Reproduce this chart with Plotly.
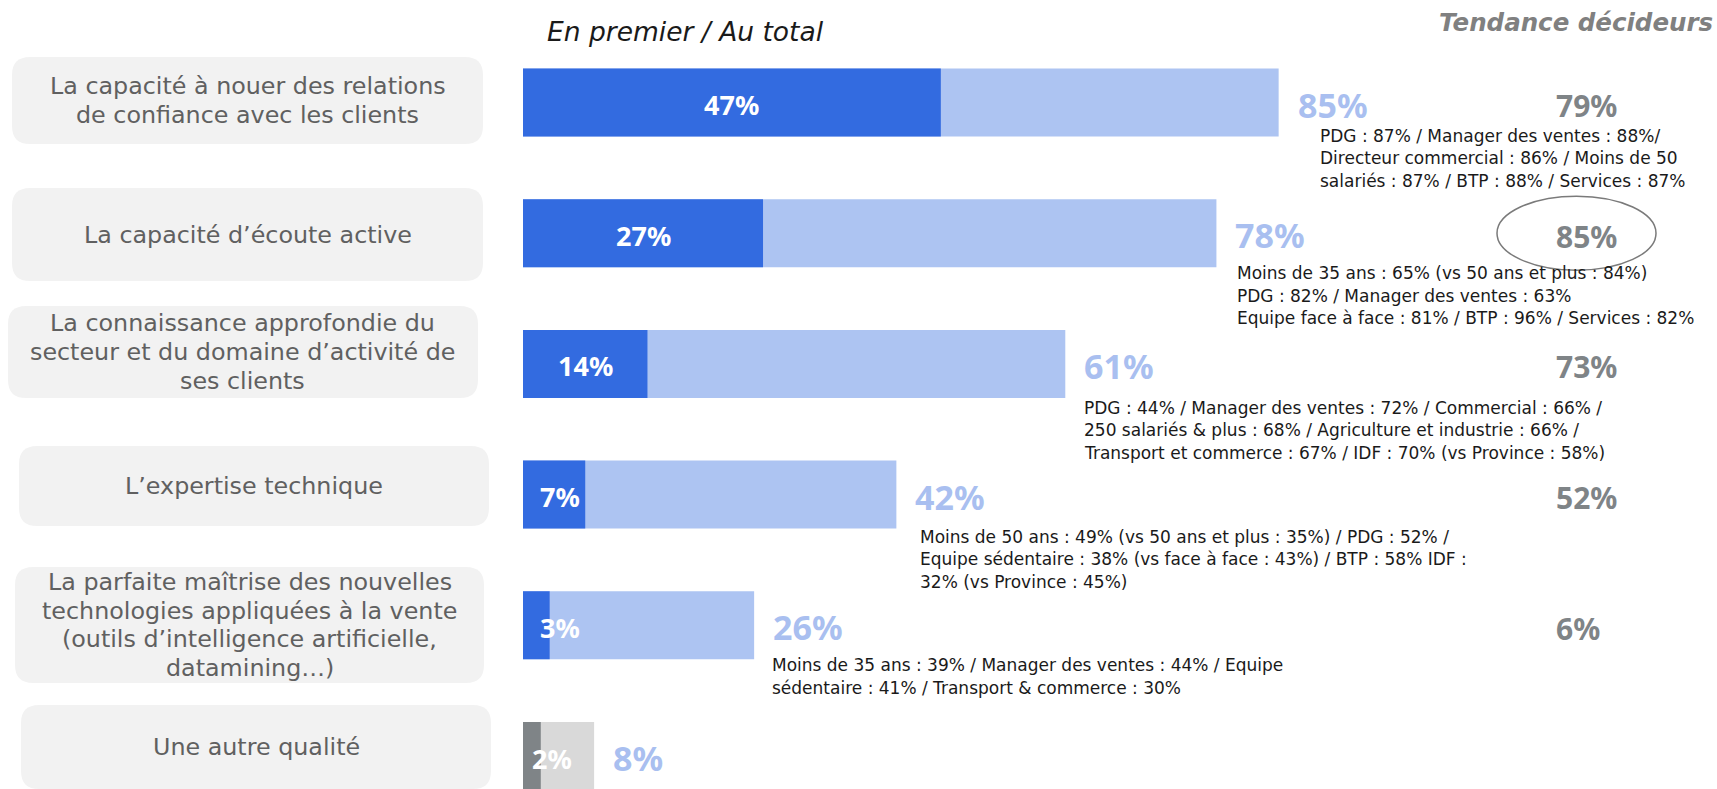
import plotly.graph_objects as go

# ---------------- data ----------------
categories = [
    "La capacité à nouer des relations<br>de confiance avec les clients",
    "La capacité d’écoute active",
    "La connaissance approfondie du<br>secteur et du domaine d’activité de<br>ses clients",
    "L’expertise technique",
    "La parfaite maîtrise des nouvelles<br>technologies appliquées à la vente<br>(outils d’intelligence artificielle,<br>datamining…)",
    "Une autre qualité",
]
en_premier = [47, 27, 14, 7, 3, 2]
au_total = [85, 78, 61, 42, 26, 8]
decideurs = ["79%", "85%", "73%", "52%", "6%", ""]
highlight = [False, True, False, False, False, False]
details = [
    ["PDG : 87% / Manager des ventes : 88%/",
     "Directeur commercial : 86% / Moins de 50",
     "salariés : 87% / BTP : 88% / Services : 87%"],
    ["Moins de 35 ans : 65% (vs 50 ans et plus : 84%)",
     "PDG : 82% / Manager des ventes : 63%",
     "Equipe face à face : 81% / BTP : 96% / Services : 82%"],
    ["PDG : 44% / Manager des ventes : 72% / Commercial : 66% /",
     "250 salariés & plus : 68% / Agriculture et industrie : 66% /",
     "Transport et commerce : 67% / IDF : 70% (vs Province : 58%)"],
    ["Moins de 50 ans : 49% (vs 50 ans et plus : 35%) / PDG : 52% /",
     "Equipe sédentaire : 38% (vs face à face : 43%) / BTP : 58% IDF :",
     "32% (vs Province : 45%)"],
    ["Moins de 35 ans : 39% / Manager des ventes : 44% / Equipe",
     "sédentaire : 41% / Transport & commerce : 30%"],
    [],
]
title_left = "En premier / Au total"
title_right = "Tendance décideurs"

# ---------------- layout constants ----------------
W, H = 1717, 789
X0_PX, PX_PER_PCT = 523, 8.89
ROW0_PX, ROW_STEP = 102.5, 130.7
BAR_W = 68 / ROW_STEP
NUM_FONT = "Noto Sans"
TXT_FONT = "DejaVu Sans"

DARK = ["#336be0"] * 5 + ["#7f8487"]
LIGHT = ["#adc4f2"] * 5 + ["#d9d9d9"]
TOTAL_COLOR = "#a9bff0"
GRAY = "#7f8487"

detail_dx = [41, 21, 19, 24, 18, 18]
detail_dy = [33, 40, 44, 42, 40, 40]
inner_small_dx = [17, 17, 17, 17, 17, 9]
BOX_LINE = 28.6
DETAIL_LINE = 22.5

# label boxes (pixel rows: top, bottom, left, right)
boxes = [(57, 144, 12, 483), (188, 281, 12, 483), (306, 398, 8, 478),
         (446, 526, 19, 489), (567, 683, 15, 484), (705, 789, 21, 491)]

xr = [-X0_PX / PX_PER_PCT, (W - X0_PX) / PX_PER_PCT]
yr = [(H - ROW0_PX) / ROW_STEP, -ROW0_PX / ROW_STEP]

idx = list(range(len(categories)))

fig = go.Figure()
fig.add_trace(go.Bar(x=au_total, y=idx, orientation="h", width=BAR_W,
                     marker=dict(color=LIGHT, line=dict(width=0)),
                     hoverinfo="skip", showlegend=False))
fig.add_trace(go.Bar(x=en_premier, y=idx, orientation="h", width=BAR_W,
                     marker=dict(color=DARK, line=dict(width=0)),
                     hoverinfo="skip", showlegend=False))


def px2paper(x, y):
    return x / W, 1 - y / H


def rrect(top, bottom, left, right, r=18):
    cmds = [("M", [(left + r, top)]), ("L", [(right - r, top)]),
            ("Q", [(right, top), (right, top + r)]), ("L", [(right, bottom - r)]),
            ("Q", [(right, bottom), (right - r, bottom)]), ("L", [(left + r, bottom)]),
            ("Q", [(left, bottom), (left, bottom - r)]), ("L", [(left, top + r)]),
            ("Q", [(left, top), (left + r, top)])]
    s = ""
    for c, ps in cmds:
        s += c + " " + " ".join("%.5f,%.5f" % px2paper(*p) for p in ps) + " "
    return s + "Z"


shapes = []
ann = []
for i, cat in enumerate(categories):
    t, b, l, r = boxes[i]
    shapes.append(dict(type="path", path=rrect(t, b, l, r), xref="paper", yref="paper",
                       fillcolor="#f2f2f2", line=dict(width=0), layer="below"))
    lines = cat.split("<br>")
    n = len(lines)
    for k, ln in enumerate(lines):
        py = (t + b) / 2 + (k - (n - 1) / 2) * BOX_LINE
        cx, cy = px2paper((l + r) / 2, py)
        ann.append(dict(x=cx, y=cy, xref="paper", yref="paper", text=ln, showarrow=False,
                        font=dict(family=TXT_FONT, size=23.8, color="#606060"),
                        xanchor="center", yanchor="middle"))
    # inner label
    v = en_premier[i]
    if v >= 10:
        ann.append(dict(x=v / 2, y=i, text="<b>%d%%</b>" % v, showarrow=False, xanchor="center",
                        yanchor="middle", font=dict(family=NUM_FONT, size=27, color="white"),
                        yshift=-2))
    else:
        ann.append(dict(x=0, y=i, text="<b>%d%%</b>" % v, showarrow=False, xanchor="left",
                        xshift=inner_small_dx[i] - 2, yanchor="middle",
                        font=dict(family=NUM_FONT, size=27, color="white"), yshift=-2))
    # total label
    ann.append(dict(x=au_total[i], y=i, text="<b>%d%%</b>" % au_total[i], showarrow=False,
                    xanchor="left", xshift=17, yanchor="middle", yshift=-2,
                    font=dict(family=NUM_FONT, size=34, color=TOTAL_COLOR)))
    # decision column
    if decideurs[i]:
        ann.append(dict(x=(1554 - X0_PX) / PX_PER_PCT, y=i, text="<b>%s</b>" % decideurs[i],
                        showarrow=False, xanchor="left", yanchor="middle", yshift=-3,
                        font=dict(family=NUM_FONT, size=30, color=GRAY)))
    if highlight[i]:
        shapes.append(dict(type="circle", xref="x", yref="y",
                           x0=(1497 - X0_PX) / PX_PER_PCT, x1=(1656 - X0_PX) / PX_PER_PCT,
                           y0=i - 37 / ROW_STEP, y1=i + 37 / ROW_STEP,
                           line=dict(color="#7a7a7a", width=1.5)))
    # details
    for k, line in enumerate(details[i]):
        ann.append(dict(x=au_total[i], y=i, text=line, showarrow=False, xanchor="left",
                        yanchor="middle", xshift=detail_dx[i] - 2,
                        yshift=-(detail_dy[i] + DETAIL_LINE * k),
                        font=dict(family=TXT_FONT, size=17, color="#1a1a1a")))

tx, ty = px2paper(545, 32)
ann.append(dict(x=tx, y=ty, xref="paper", yref="paper", text="<i>%s</i>" % title_left,
                showarrow=False, xanchor="left", yanchor="middle",
                font=dict(family=TXT_FONT, size=26.5, color="#1a1a1a")))
tx, ty = px2paper(1715, 22)
ann.append(dict(x=tx, y=ty, xref="paper", yref="paper", text="<b><i>%s</i></b>" % title_right,
                showarrow=False, xanchor="right", yanchor="middle",
                font=dict(family=TXT_FONT, size=24.5, color="#808080")))

fig.update_layout(
    width=W, height=H, margin=dict(l=0, r=0, t=0, b=0),
    paper_bgcolor="white", plot_bgcolor="white", barmode="overlay",
    xaxis=dict(range=xr, visible=False, fixedrange=True),
    yaxis=dict(range=yr, visible=False, fixedrange=True),
    shapes=shapes, annotations=ann, showlegend=False,
)

fig.write_html("out.html", config={"displayModeBar": False},
               post_script="document.body.style.margin='0';document.body.style.overflow='hidden';")
